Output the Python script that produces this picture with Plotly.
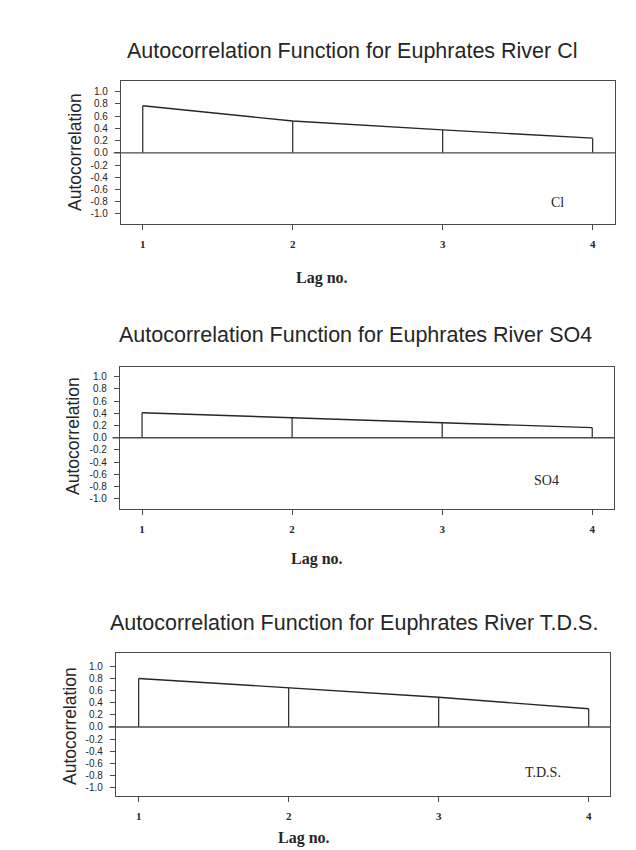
import plotly.graph_objects as go

# Autocorrelation values at lags 1-4 for three Euphrates River parameters
lags = [1, 2, 3, 4]
cl_acf = [0.77, 0.52, 0.375, 0.24]
so4_acf = [0.41, 0.33, 0.245, 0.165]
tds_acf = [0.80, 0.65, 0.49, 0.30]

series_names = ["Cl", "SO4", "T.D.S."]
titles = [
    "Autocorrelation Function for Euphrates River Cl",
    "Autocorrelation Function for Euphrates River SO4",
    "Autocorrelation Function for Euphrates River T.D.S.",
]
y_tick_vals = [1.0, 0.8, 0.6, 0.4, 0.2, 0.0, -0.2, -0.4, -0.6, -0.8, -1.0]
y_tick_text = ["1.0", "0.8", "0.6", "0.4", "0.2", "0.0", "-0.2", "-0.4", "-0.6", "-0.8", "-1.0"]
x_tick_text = ["1", "2", "3", "4"]

W, H = 636, 850


def px(x):
    return x / W


def py(y):
    return 1 - y / H


# panel layout in pixels: box left, right, top, bottom; axis ranges; label spots
panels = [
    dict(box=(121, 615, 81, 224), xr=(0.855, 4.149), yr=(-1.164, 1.175),
         title=(352, 51), xlab=(322, 278), ylab=(75, 152), tag=(557, 202)),
    dict(box=(120, 614, 367, 509), xr=(0.853, 4.145), yr=(-1.169, 1.16),
         title=(355, 335), xlab=(317, 559), ylab=(73, 436), tag=(546, 480)),
    dict(box=(116, 610, 653, 796), xr=(0.849, 4.142), yr=(-1.137, 1.219),
         title=(354, 623), xlab=(304, 838), ylab=(70, 726), tag=(543, 772)),
]
values = [cl_acf, so4_acf, tds_acf]

INK = "#262626"
FRAME = "#4a4a4a"

fig = go.Figure()
annotations = []
shapes = []

for i, (p, vals) in enumerate(zip(panels, values)):
    n = "" if i == 0 else str(i + 1)
    xa, ya = "x" + n, "y" + n
    left, right, top, bottom = p["box"]

    # vertical spikes from zero to each autocorrelation value
    sx, sy = [], []
    for lag, v in zip(lags, vals):
        sx += [lag, lag, None]
        sy += [0, v, None]
    fig.add_trace(go.Scatter(x=sx, y=sy, mode="lines", xaxis=xa, yaxis=ya,
                             line=dict(color=INK, width=1.2), showlegend=False,
                             hoverinfo="skip"))
    # line joining the spike tops
    fig.add_trace(go.Scatter(x=lags, y=vals, mode="lines", xaxis=xa, yaxis=ya,
                             line=dict(color=INK, width=1.4), showlegend=False))

    fig.update_layout({
        "xaxis" + n: dict(
            domain=[px(left), px(right)], range=list(p["xr"]), anchor=ya,
            showline=True, mirror=True, linecolor=FRAME, linewidth=1.4,
            showgrid=False, zeroline=False,
            ticks="outside", ticklen=5, tickwidth=1, tickcolor=FRAME,
            tickvals=lags, ticktext=x_tick_text, ticklabelstandoff=5,
            tickfont=dict(family="Liberation Serif", size=11, color=INK, weight="bold"),
        ),
        "yaxis" + n: dict(
            domain=[py(bottom), py(top)], range=list(p["yr"]), anchor=xa,
            showline=True, mirror=True, linecolor=FRAME, linewidth=1.4,
            showgrid=False, zeroline=False,
            ticks="outside", ticklen=5, tickwidth=1, tickcolor=FRAME,
            tickvals=y_tick_vals, ticktext=y_tick_text, ticklabelstandoff=5,
            tickfont=dict(family="Liberation Sans", size=10, color=INK),
        ),
    })

    # zero reference line across the panel
    shapes.append(dict(type="line", xref=xa + " domain", yref=ya,
                       x0=-0.015, x1=1, y0=0, y1=0,
                       line=dict(color=FRAME, width=1.4)))

    annotations += [
        dict(text=titles[i], x=px(p["title"][0]), y=py(p["title"][1]),
             xref="paper", yref="paper",
             showarrow=False, xanchor="center", yanchor="middle",
             font=dict(family="Liberation Sans", size=21.5, color=INK)),
        dict(text="Lag no.", x=px(p["xlab"][0]), y=py(p["xlab"][1]), xref="paper", yref="paper",
             showarrow=False, xanchor="center", yanchor="middle",
             font=dict(family="Liberation Serif", size=16, color=INK, weight="bold")),
        dict(text="Autocorrelation", x=px(p["ylab"][0]), y=py(p["ylab"][1]),
             xref="paper", yref="paper", textangle=-90,
             showarrow=False, xanchor="center", yanchor="middle",
             font=dict(family="Liberation Sans", size=17.5, color=INK)),
        dict(text=series_names[i], x=px(p["tag"][0]), y=py(p["tag"][1]),
             xref="paper", yref="paper",
             showarrow=False, xanchor="center", yanchor="middle",
             font=dict(family="Liberation Serif", size=14, color=INK)),
    ]

fig.update_layout(
    width=W, height=H,
    margin=dict(l=0, r=0, t=0, b=0),
    paper_bgcolor="white", plot_bgcolor="white",
    annotations=annotations, shapes=shapes,
    showlegend=False,
)

fig.write_html("out.html")
